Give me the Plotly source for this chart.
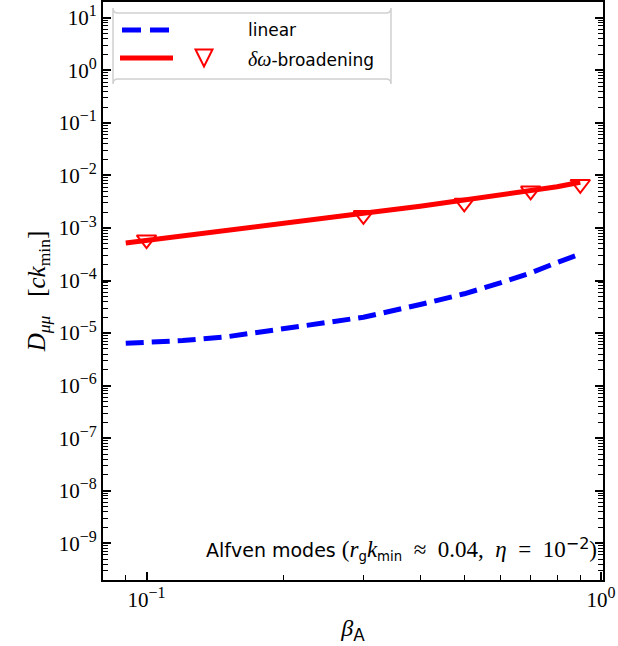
import plotly.graph_objects as go

# ---- data ----
beta_line = [0.09, 0.1, 0.12, 0.15, 0.2, 0.3, 0.4, 0.5, 0.6, 0.7, 0.8, 0.9]
d_linear = [6.4e-6, 6.7e-6, 7.2e-6, 8.5e-6, 1.2e-5, 2.0e-5, 3.5e-5, 5.6e-5, 9.0e-5, 1.4e-4, 2.2e-4, 3.2e-4]
d_broad = [5.2e-4, 5.8e-4, 7.0e-4, 9.0e-4, 1.22e-3, 1.9e-3, 2.6e-3, 3.4e-3, 4.2e-3, 5.0e-3, 6.1e-3, 7.4e-3]

beta_pts = [0.1, 0.3, 0.5, 0.7, 0.9]
d_pts = [6.0e-4, 1.74e-3, 3.0e-3, 5.1e-3, 6.8e-3]

SUP = "<sup><span style='font-size:16px'>%s</span></sup>"
y_major = [10.0 ** k for k in range(-9, 2)]
y_major_text = ["10" + SUP % (("−%d" % -k) if k < 0 else "%d" % k) for k in range(-9, 2)]
x_major = [0.1, 1.0]
x_major_text = ["10" + SUP % "−1", "10" + SUP % "0"]

y_minor = [m * 10.0 ** k for k in range(-10, 2) for m in range(2, 10)]
x_minor = [0.09] + [m / 10 for m in range(2, 10)]

W, H = 618, 646
L, R, T, B = 103, 15, 2, 66
PW, PH = W - L - R, H - T - B
NB = "\u00a0"


def px(x):
    return (x - L) / PW


def py(y):
    return (H - B - y) / PH


fig = go.Figure()
fig.add_trace(go.Scatter(x=beta_line, y=d_linear, mode="lines",
                         line=dict(color="#0000ff", width=5, dash="18px,8px"),
                         showlegend=False, hoverinfo="skip"))
fig.add_trace(go.Scatter(x=beta_line, y=d_broad, mode="lines",
                         line=dict(color="#ff0000", width=5), showlegend=False, hoverinfo="skip"))
fig.add_trace(go.Scatter(x=beta_pts, y=d_pts, mode="markers",
                         marker=dict(symbol="triangle-down-open", size=17, color="#ff0000",
                                     line=dict(width=2, color="#ff0000")),
                         showlegend=False, hoverinfo="skip"))
# invisible copy bound to the right-hand axis so its ticks are drawn
fig.add_trace(go.Scatter(x=beta_pts, y=d_pts, mode="markers", yaxis="y2", opacity=0,
                         showlegend=False, hoverinfo="skip"))

serif = "Liberation Serif"
sans = "DejaVu Sans"

fig.update_xaxes(type="log", range=[-1.0958, 0.0042],
                 tickmode="array", tickvals=x_major, ticktext=x_major_text,
                 ticks="inside", ticklen=8, tickwidth=1.8, tickcolor="black",
                 minor=dict(tickmode="array", tickvals=x_minor, ticks="inside",
                            ticklen=5, tickwidth=1.3, tickcolor="black"),
                 showline=True, linewidth=2, linecolor="black", mirror=True,
                 showgrid=False, zeroline=False, automargin=False,
                 tickfont=dict(family=serif, size=21, color="black"),
                 title=dict(text="<i>β</i><sub><span style='font-family:DejaVu Sans'>A</span></sub>",
                            font=dict(family=serif, size=24, color="black"), standoff=8))
yax = dict(type="log", range=[-9.699, 1.301],
           tickmode="array", tickvals=y_major,
           ticks="inside", ticklen=8, tickwidth=1.8, tickcolor="black",
           minor=dict(tickmode="array", tickvals=y_minor, ticks="inside",
                      ticklen=5, tickwidth=1.3, tickcolor="black"),
           showline=True, linewidth=2, linecolor="black",
           showgrid=False, zeroline=False, automargin=False)
fig.update_layout(
    yaxis=dict(yax, ticktext=y_major_text,
               tickfont=dict(family=serif, size=21, color="black"),
               title=dict(text=f"<i>D</i><sub><i>μμ</i></sub>{NB*3}[<i>ck</i><sub>min</sub>]",
                          font=dict(family=serif, size=25, color="black"), standoff=6)),
    yaxis2=dict(yax, overlaying="y", side="right", showticklabels=False),
)

# ---- legend drawn manually ----
x0, x1, y0, y1, r = px(113), px(391), py(13), py(79), 5
rx, ry = r / PW, r / PH
path = (f"M {x0+rx},{y1} L {x1-rx},{y1} Q {x1},{y1} {x1},{y1-ry} "
        f"L {x1},{y0+ry} Q {x1},{y0} {x1-rx},{y0} L {x0+rx},{y0} Q {x0},{y0} {x0},{y0+ry} "
        f"L {x0},{y1-ry} Q {x0},{y1} {x0+rx},{y1} Z")
shapes = [dict(type="path", path=path, xref="paper", yref="paper",
               line=dict(color="#d0d0d0", width=1.5), fillcolor="rgba(255,255,255,0.85)")]
shapes.append(dict(type="line", xref="paper", yref="paper", x0=px(122), x1=px(170), y0=py(30), y1=py(30),
                   line=dict(color="#0000ff", width=5, dash="19px,9px")))
shapes.append(dict(type="line", xref="paper", yref="paper", x0=px(120), x1=px(173), y0=py(58), y1=py(58),
                   line=dict(color="#ff0000", width=5)))
tx, ty, ts = 204, 58, 8.5
shapes.append(dict(type="path", xref="paper", yref="paper",
                   path=f"M {px(tx-ts)},{py(ty-ts)} L {px(tx+ts)},{py(ty-ts)} L {px(tx)},{py(ty+ts)} Z",
                   line=dict(color="#ff0000", width=2), fillcolor="rgba(0,0,0,0)"))

M = f"<span style='font-family:{serif};font-size:23px'>%s</span>"
annotations = [
    dict(x=px(246), y=py(30), xref="paper", yref="paper", xanchor="left", yanchor="middle",
         text="linear", showarrow=False, font=dict(family=sans, size=17, color="black")),
    dict(x=px(246), y=py(59), xref="paper", yref="paper", xanchor="left", yanchor="middle",
         text=f"<span style='font-family:{serif};font-size:20px'><i>δω</i></span>-broadening", showarrow=False,
         font=dict(family=sans, size=17, color="black")),
    dict(x=px(599), y=py(549), xref="paper", yref="paper", xanchor="right", yanchor="middle",
         text=("Alfven modes " + M % "(<i>r</i>" + "<sub>g</sub>" + M % "<i>k</i>" + "<sub>min</sub>"
               + M % f"{NB}{NB}≈{NB}{NB}0.04,{NB}{NB}<i>η</i>{NB}{NB}={NB}{NB}10"
               + "<sup><span style='font-size:16px'>−2</span></sup>" + M % ")"),
         showarrow=False, font=dict(family=sans, size=19, color="black")),
]

fig.update_layout(width=W, height=H, margin=dict(l=L, r=R, t=T, b=B, autoexpand=False),
                  paper_bgcolor="white", plot_bgcolor="white",
                  shapes=shapes, annotations=annotations, showlegend=False)

fig.write_html("out.html", config={"displayModeBar": False},
               post_script="document.body.style.margin='0px';")
